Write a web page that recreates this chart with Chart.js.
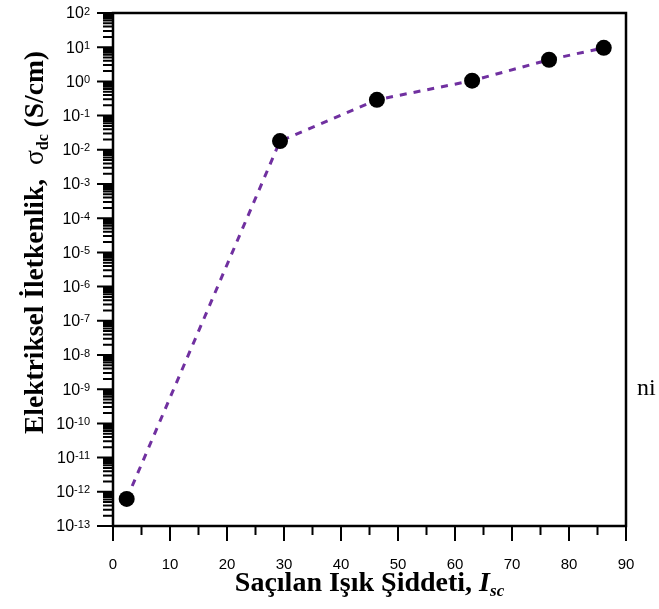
<!DOCTYPE html>
<html>
<head>
  <meta charset="utf-8">
  <title>Elektriksel Iletkenlik vs Saçılan Işık Şiddeti</title>
  <script src="https://cdn.jsdelivr.net/npm/chart.js"></script>
  <style>
    body {
      margin: 0;
      padding: 0;
      background-color: #fff;
      overflow: hidden;
    }
    canvas { display: block; }
  </style>
</head>
<body>
  <canvas id="condChart" width="659" height="609"></canvas>

  <script>
    // ----- Data -----
    const scatterInt = [2.4, 29.3, 46.3, 63.0, 76.5, 86.1];          // I_sc
    const sigmaDc    = [6.2e-13, 1.8e-2, 0.29, 1.05, 4.3, 9.6];      // S/cm
    const xTickVals  = [0, 10, 20, 30, 40, 50, 60, 70, 80, 90];
    const yDecades   = [-13, -12, -11, -10, -9, -8, -7, -6, -5, -4, -3, -2, -1, 0, 1, 2];

    const points = scatterInt.map((v, i) => ({ x: v, y: sigmaDc[i] }));

    // draws a run of text pieces with their own fonts / offsets
    function drawPieces(ctx, pieces, x, y) {
      let cx = x;
      pieces.forEach(p => {
        ctx.font = p.font;
        ctx.fillText(p.text, cx, y + (p.dy || 0));
        cx += ctx.measureText(p.text).width;
      });
      return cx - x;
    }
    function piecesWidth(ctx, pieces) {
      let w = 0;
      pieces.forEach(p => { ctx.font = p.font; w += ctx.measureText(p.text).width; });
      return w;
    }

    const serif = '"Liberation Serif", "Times New Roman", serif';
    const sans  = '"Liberation Sans", Arial, sans-serif';

    // ----- Frame, tick marks, log labels and axis titles -----
    const decorPlugin = {
      id: 'decor',
      afterDraw(chart) {
        const { ctx, chartArea: a, scales: { x, y } } = chart;
        ctx.save();
        ctx.strokeStyle = '#000';
        ctx.fillStyle = '#000';

        // box
        ctx.lineWidth = 2.5;
        ctx.strokeRect(a.left, a.top, a.right - a.left, a.bottom - a.top);

        // y ticks (outward), major + 2..9 minors
        ctx.lineWidth = 2;
        ctx.beginPath();
        yDecades.forEach((e, i) => {
          const py = y.getPixelForValue(Math.pow(10, e));
          ctx.moveTo(a.left - 16, py); ctx.lineTo(a.left, py);
          if (i < yDecades.length - 1) {
            for (let m = 2; m <= 9; m++) {
              const pm = y.getPixelForValue(m * Math.pow(10, e));
              ctx.moveTo(a.left - 10, pm); ctx.lineTo(a.left, pm);
            }
          }
        });
        // x ticks (outward)
        xTickVals.forEach((v, i) => {
          const px = x.getPixelForValue(v);
          ctx.moveTo(px, a.bottom); ctx.lineTo(px, a.bottom + 15);
          if (i < xTickVals.length - 1) {
            const pm = x.getPixelForValue(v + 5);
            ctx.moveTo(pm, a.bottom); ctx.lineTo(pm, a.bottom + 9);
          }
        });
        ctx.stroke();

        // y labels 10^n
        const right = 90;
        yDecades.forEach(e => {
          const py = y.getPixelForValue(Math.pow(10, e));
          ctx.font = '11px ' + sans;
          const ew = ctx.measureText(String(e)).width;
          ctx.textBaseline = 'top';
          ctx.textAlign = 'left';
          ctx.fillText(String(e), right - ew, py - 7);
          ctx.font = '16px ' + sans;
          const bw = ctx.measureText('10').width;
          ctx.textBaseline = 'middle';
          ctx.fillText('10', right - ew - bw, py + 1);
        });

        // x title
        ctx.textBaseline = 'alphabetic';
        ctx.textAlign = 'left';
        const xt = [
          { text: 'Saçılan Işık Şiddeti, ', font: 'bold 28px ' + serif },
          { text: 'I', font: 'italic bold 28px ' + serif },
          { text: 'sc', font: 'italic bold 17px ' + serif, dy: 5 }
        ];
        const xw = piecesWidth(ctx, xt);
        drawPieces(ctx, xt, (a.left + a.right) / 2 - xw / 2, 591);

        // y title, rotated
        const yt = [
          { text: 'Elektriksel İletkenlik,  ', font: 'bold 27.5px ' + serif },
          { text: 'σ', font: '27.5px ' + serif },
          { text: 'dc', font: 'bold 16px ' + serif, dy: 5 },
          { text: ' (S/cm)', font: 'bold 27.5px ' + serif }
        ];
        ctx.save();
        ctx.translate(43, 434);
        ctx.rotate(-Math.PI / 2);
        drawPieces(ctx, yt, 0, 0);
        ctx.restore();

        // stray text at right edge
        ctx.font = '24px ' + serif;
        ctx.fillText('ni', 637, 395);

        ctx.restore();
      }
    };

    const ctx = document.getElementById('condChart').getContext('2d');
    new Chart(ctx, {
      type: 'line',
      data: {
        datasets: [{
          label: 'σdc',
          data: points,
          borderColor: '#7030A0',
          borderWidth: 3,
          borderDash: [7, 7],
          tension: 0,
          fill: false,
          clip: false,
          pointRadius: 8,
          pointHoverRadius: 8,
          pointBackgroundColor: '#000',
          pointBorderColor: '#000',
          pointBorderWidth: 0
        }]
      },
      options: {
        responsive: false,
        animation: false,
        devicePixelRatio: 1,
        layout: { autoPadding: false, padding: { top: 13, right: 33, left: 0, bottom: 0 } },
        plugins: {
          legend: { display: false },
          tooltip: { enabled: false }
        },
        scales: {
          x: {
            type: 'linear',
            min: 0,
            max: 90,
            grid: { display: false, drawTicks: false },
            border: { display: false },
            ticks: {
              stepSize: 10,
              color: '#000',
              padding: 30,
              font: { family: sans, size: 15 }
            },
            afterFit: s => { s.height = 83; s.paddingLeft = 0; s.paddingRight = 0; }
          },
          y: {
            type: 'logarithmic',
            min: 1e-13,
            max: 1e2,
            grid: { display: false, drawTicks: false },
            border: { display: false },
            ticks: { display: false },
            afterFit: s => { s.width = 113; s.paddingTop = 0; s.paddingBottom = 0; }
          }
        }
      },
      plugins: [decorPlugin]
    });
  </script>
</body>
</html>
